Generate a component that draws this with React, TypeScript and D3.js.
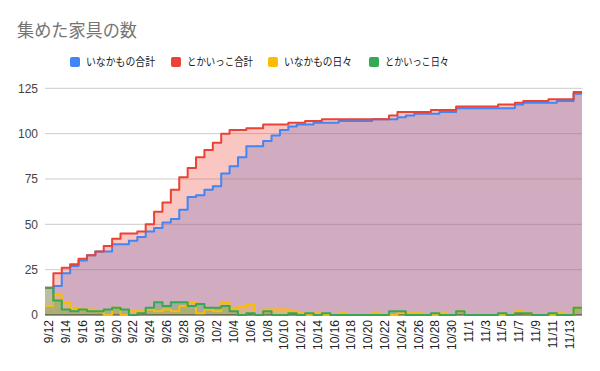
import React from 'react';
import * as d3 from 'd3';

const dates = [
  '9/12', '9/13', '9/14', '9/15', '9/16', '9/17', '9/18', '9/19', '9/20', '9/21',
  '9/22', '9/23', '9/24', '9/25', '9/26', '9/27', '9/28', '9/29', '9/30', '10/1',
  '10/2', '10/3', '10/4', '10/5', '10/6', '10/7', '10/8', '10/9', '10/10', '10/11',
  '10/12', '10/13', '10/14', '10/15', '10/16', '10/17', '10/18', '10/19', '10/20', '10/21',
  '10/22', '10/23', '10/24', '10/25', '10/26', '10/27', '10/28', '10/29', '10/30', '10/31',
  '11/1', '11/2', '11/3', '11/4', '11/5', '11/6', '11/7', '11/8', '11/9', '11/10',
  '11/11', '11/12', '11/13', '11/14',
];

// いなかもの合計
const inakaTotal = [
  5, 16, 23, 27, 30, 33, 35, 35, 39, 39,
  41, 43, 46, 48, 51, 53, 58, 65, 66, 69,
  71, 78, 82, 87, 93, 93, 96, 99, 102, 104,
  105, 105, 106, 106, 106, 107, 107, 107, 107, 108,
  108, 108, 109, 110, 111, 111, 111, 112, 112, 114,
  114, 114, 114, 114, 114, 114, 116, 117, 117, 117,
  117, 118, 118, 122,
];

// とかいっこ合計
const tokaiTotal = [
  15, 23, 26, 28, 31, 33, 35, 38, 42, 45,
  45, 46, 50, 57, 62, 69, 76, 81, 87, 91,
  95, 100, 102, 102, 103, 103, 105, 105, 105, 106,
  106, 107, 107, 108, 108, 108, 108, 108, 108, 108,
  108, 110, 112, 112, 112, 112, 113, 113, 113, 115,
  115, 115, 115, 115, 116, 116, 117, 118, 118, 118,
  119, 119, 119, 123,
];

// いなかもの日々
const inakaDaily = [
  5, 11, 7, 4, 3, 3, 2, 0, 4, 0,
  2, 2, 3, 2, 3, 2, 5, 7, 1, 3,
  2, 7, 4, 5, 6, 0, 3, 3, 3, 2,
  1, 0, 1, 0, 0, 1, 0, 0, 0, 1,
  0, 0, 1, 1, 1, 0, 0, 1, 0, 2,
  0, 0, 0, 0, 0, 0, 2, 1, 0, 0,
  0, 1, 0, 4,
];

// とかいっこ日々
const tokaiDaily = [
  15, 8, 3, 2, 3, 2, 2, 3, 4, 3,
  0, 1, 4, 7, 5, 7, 7, 5, 6, 4,
  4, 5, 2, 0, 1, 0, 2, 0, 0, 1,
  0, 1, 0, 1, 0, 0, 0, 0, 0, 0,
  0, 2, 2, 0, 0, 0, 1, 0, 0, 2,
  0, 0, 0, 0, 1, 0, 1, 1, 0, 0,
  1, 0, 0, 4,
];

const yTicks = [0, 25, 50, 75, 100, 125];

const series = [
  { name: 'いなかもの合計', color: '#4285f4', values: inakaTotal },
  { name: 'とかいっこ合計', color: '#ea4335', values: tokaiTotal },
  { name: 'いなかもの日々', color: '#fbbc04', values: inakaDaily },
  { name: 'とかいっこ日々', color: '#34a853', values: tokaiDaily },
];

// legend swatch x and label width (kana in the original are set proportionally)
const legendX = [70, 171, 268, 369];
const legendW = [69, 66, 68, 64];

const jp = '"Noto Sans CJK JP", "Noto Sans", sans-serif';
const num = '"Liberation Sans", Arial, sans-serif';

export default function App() {
  const x = d3.scaleBand<string>().domain(dates).range([45, 582]);
  const y = d3.scaleLinear().domain([0, 125]).range([315, 88.3]);
  const bw = x.bandwidth();

  // each day is a flat step across its band
  const steps = (values: number[]) =>
    values.flatMap((v, i) => {
      const x0 = x(dates[i]) as number;
      return [[x0, v], [x0 + bw, v]] as [number, number][];
    });

  const area = d3.area<[number, number]>()
    .x(d => d[0])
    .y0(y(0))
    .y1(d => y(d[1]));
  const line = d3.line<[number, number]>()
    .x(d => d[0])
    .y(d => y(d[1]));

  return (
    <svg width={600} height={371} style={{ position: 'absolute', left: 0, top: 0, background: '#fff' }}>
      <text x={17} y={37} fontFamily={jp} fontSize={18} fill="#757575"
        textLength={120} lengthAdjust="spacingAndGlyphs">
        集めた家具の数
      </text>

      {series.map((s, i) => (
        <g key={s.name}>
          <rect x={legendX[i]} y={57} width={10} height={10} rx={2} fill={s.color} />
          <text x={legendX[i] + 16} y={66} fontFamily={jp} fontSize={11.5} fill="#222"
            textLength={legendW[i]} lengthAdjust="spacingAndGlyphs">
            {s.name}
          </text>
        </g>
      ))}

      {yTicks.map(t => (
        <g key={t}>
          {t > 0 && <line x1={45} x2={582} y1={y(t)} y2={y(t)} stroke="#cccccc" strokeWidth={1} />}
          <text x={38} y={y(t)} dy="0.35em" textAnchor="end" fontFamily={num} fontSize={12} fill="#444">
            {t}
          </text>
        </g>
      ))}

      {series.map(s => (
        <path key={s.name} d={area(steps(s.values)) || ''} fill={s.color} fillOpacity={0.3} />
      ))}

      <line x1={45} x2={582} y1={y(0)} y2={y(0)} stroke="#333" strokeWidth={1} />

      {series.map(s => (
        <path key={s.name} d={line(steps(s.values)) || ''} fill="none" stroke={s.color}
          strokeWidth={2} strokeLinejoin="round" />
      ))}

      {dates.map((d, i) => i % 2 === 0 && (
        <text key={d} transform={`translate(${(x(d) as number) + bw / 2},320) rotate(-90)`}
          dy="0.35em" textAnchor="end" fontFamily={num} fontSize={12} fill="#222">
          {d}
        </text>
      ))}
    </svg>
  );
}
